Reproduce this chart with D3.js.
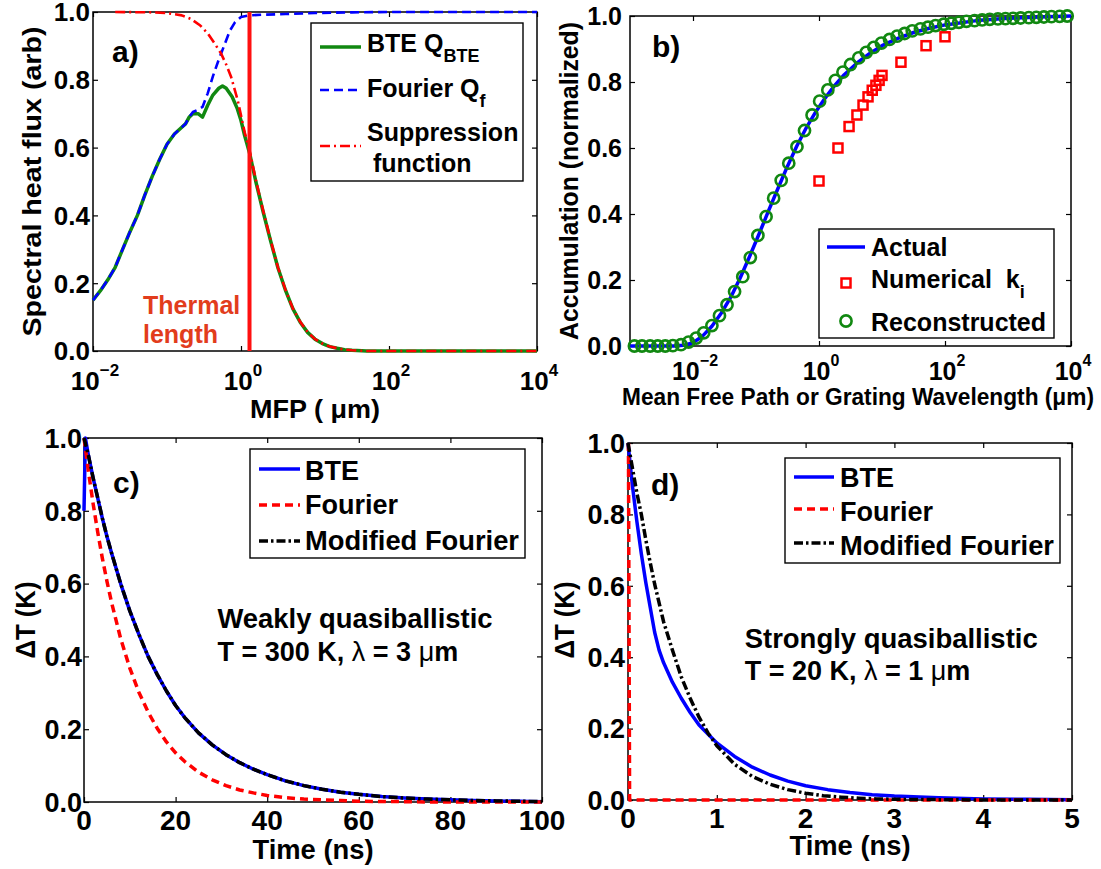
<!DOCTYPE html>
<html><head><meta charset="utf-8">
<script src="https://cdn.jsdelivr.net/npm/d3@7"></script>
<style>
body{margin:0;background:#fff}
svg{display:block}
text{font-family:"Liberation Sans",Arial,Helvetica,sans-serif;font-weight:bold;fill:#000}
</style>
</head><body>
<script>
// ---------------- DATA ----------------
// Panel a: spectral heat flux vs MFP (x as log10 of MFP in um)
const bteExp = [-2.0,-1.9,-1.8,-1.7,-1.6,-1.5,-1.4,-1.3,-1.2,-1.1,-1.0,-0.9,-0.8,-0.75,-0.7,-0.65,-0.58,-0.52,-0.45,-0.38,-0.3,-0.25,-0.2,-0.12,-0.05,0.0,0.05,0.12,0.2,0.3,0.4,0.5,0.6,0.7,0.8,0.9,1.0,1.1,1.2,1.3,1.4,1.5,1.7,2.0,3.0,4.0];
const bteVal = [0.15,0.178,0.21,0.247,0.30,0.352,0.40,0.46,0.515,0.565,0.61,0.64,0.66,0.67,0.69,0.70,0.70,0.69,0.725,0.755,0.775,0.782,0.775,0.75,0.715,0.68,0.635,0.58,0.5,0.41,0.325,0.245,0.18,0.125,0.085,0.055,0.035,0.022,0.013,0.008,0.004,0.002,0,0,0,0];
const fourExp = [-2.0,-1.9,-1.8,-1.7,-1.6,-1.5,-1.4,-1.3,-1.2,-1.1,-1.0,-0.9,-0.8,-0.75,-0.7,-0.65,-0.58,-0.52,-0.45,-0.38,-0.3,-0.22,-0.15,-0.08,0.0,0.1,0.3,0.6,1.0,1.5,2.0,3.0,4.0];
const fourVal = [0.15,0.178,0.21,0.247,0.30,0.352,0.40,0.46,0.515,0.565,0.61,0.64,0.66,0.67,0.69,0.705,0.712,0.72,0.76,0.81,0.86,0.905,0.945,0.97,0.985,0.99,0.992,0.994,0.997,0.999,1,1,1];
const suppExp = [-1.7,-1.2,-1.0,-0.8,-0.68,-0.55,-0.45,-0.35,-0.27,-0.2,-0.136,-0.09,-0.045,0.0,0.05,0.12,0.2,0.3,0.4,0.5,0.6,0.7,0.8,0.9,1.0,1.1,1.2,1.3,1.4,1.5,1.7,2.0,3.0,4.0];
const suppVal = [1.0,0.999,0.997,0.99,0.98,0.96,0.937,0.905,0.878,0.845,0.81,0.775,0.74,0.695,0.645,0.588,0.505,0.413,0.327,0.246,0.181,0.126,0.086,0.056,0.035,0.022,0.013,0.008,0.004,0.002,0,0,0,0];
const thermalLengthExp = 0.115;
const aXTicks = [-2,0,2,4];
const yTicks = [0,0.2,0.4,0.6,0.8,1.0];
const yTickLabels = ["0.0","0.2","0.4","0.6","0.8","1.0"];

// Panel b: accumulation (x as log10 of length in um)
const actExp = [-3,-2.3,-2.15,-2.0,-1.85,-1.7,-1.55,-1.4,-1.25,-1.1,-0.95,-0.8,-0.65,-0.5,-0.35,-0.2,-0.05,0.1,0.25,0.4,0.6,0.8,1.0,1.25,1.5,1.75,2.0,2.5,3.0,3.5,4.0];
const actVal = [0,0,0.002,0.01,0.03,0.06,0.1,0.148,0.207,0.272,0.34,0.41,0.478,0.545,0.607,0.662,0.71,0.752,0.79,0.822,0.857,0.886,0.91,0.932,0.95,0.963,0.973,0.986,0.993,0.997,1.0];
const numLambda = [1,2,3,4,5,6,7,8,9,10,20,50,100];
const numVal = [0.50,0.60,0.665,0.70,0.73,0.755,0.775,0.79,0.805,0.82,0.86,0.91,0.937];
const recExp = [-2.93,-2.81,-2.68,-2.56,-2.44,-2.32,-2.19,-2.07,-1.95,-1.83,-1.70,-1.58,-1.46,-1.34,-1.21,-1.09,-0.97,-0.84,-0.72,-0.60,-0.48,-0.35,-0.23,-0.11,0.01,0.14,0.26,0.38,0.50,0.63,0.75,0.87,0.99,1.12,1.24,1.36,1.48,1.61,1.73,1.85,1.98,2.10,2.22,2.34,2.47,2.59,2.71,2.84,2.96,3.08,3.20,3.33,3.45,3.57,3.69,3.82,3.94];
const recVal = [0,0,0,0,0,0.001,0.004,0.012,0.024,0.040,0.062,0.092,0.125,0.165,0.210,0.268,0.335,0.392,0.448,0.502,0.554,0.604,0.653,0.700,0.742,0.776,0.805,0.830,0.853,0.873,0.890,0.905,0.918,0.929,0.939,0.947,0.955,0.961,0.966,0.971,0.975,0.978,0.981,0.984,0.986,0.988,0.990,0.991,0.992,0.993,0.994,0.995,0.996,0.997,0.998,0.999,1.000];
const bXTicks = [-2,0,2,4];

// Panel c: weakly quasiballistic (time in ns)
const cTimeBte = [0,0.3,1,2,3,4,5,6,8,10,12,14,16,18,20,22,25,28,31,34,37,40,44,48,52,56,60,65,70,75,80,85,90,95,100];
const cBte = [0.8,1.0,0.95,0.89,0.835,0.78,0.73,0.685,0.60,0.525,0.46,0.40,0.35,0.305,0.265,0.232,0.19,0.157,0.13,0.108,0.09,0.075,0.058,0.045,0.035,0.027,0.021,0.015,0.011,0.008,0.006,0.004,0.003,0.002,0.001];
const cTime = [0,1,2,3,4,5,6,8,10,12,14,16,18,20,22,25,28,31,34,37,40,44,48,52,56,60,65,70,75,80,85,90,95,100];
const cFourier = [1.0,0.905,0.819,0.741,0.670,0.607,0.549,0.449,0.368,0.301,0.247,0.202,0.165,0.135,0.111,0.082,0.061,0.045,0.033,0.025,0.018,0.012,0.008,0.006,0.004,0.002,0.0015,0.001,0,0,0,0,0,0];
const cModified = [1.0,0.95,0.89,0.835,0.78,0.73,0.685,0.60,0.525,0.46,0.40,0.35,0.305,0.265,0.232,0.19,0.157,0.13,0.108,0.09,0.075,0.058,0.045,0.035,0.027,0.021,0.015,0.011,0.008,0.006,0.004,0.003,0.002,0.001];
const cXTicks = [0,20,40,60,80,100];

// Panel d: strongly quasiballistic (time in ns)
const dTimeBte = [0,0.05,0.1,0.15,0.2,0.25,0.3,0.35,0.4,0.5,0.6,0.7,0.8,0.9,1.0,1.2,1.4,1.6,1.8,2.0,2.25,2.5,2.75,3.0,3.5,4.0,4.5,5.0];
const dBte = [1.0,0.88,0.78,0.69,0.61,0.54,0.47,0.42,0.385,0.33,0.285,0.245,0.21,0.185,0.16,0.122,0.092,0.07,0.053,0.04,0.029,0.021,0.015,0.011,0.006,0.003,0.002,0.001];
const dTimeMod = [0,0.05,0.1,0.15,0.2,0.25,0.3,0.4,0.5,0.6,0.7,0.8,0.9,1.0,1.2,1.4,1.6,1.8,2.0,2.2,2.4,2.6,2.8,3.0,3.5,4.0,5.0];
const dModified = [1.0,0.93,0.86,0.80,0.73,0.665,0.605,0.5,0.42,0.345,0.285,0.232,0.188,0.152,0.1,0.066,0.044,0.029,0.019,0.012,0.008,0.005,0.003,0.002,0.001,0,0];
const dTimeFour = [0.005,0.018,5.0];
const dFourier = [1.0,0.0,0.0];
const dXTicks = [0,1,2,3,4,5];

// ---------------- DRAWING ----------------
const W = 1101, H = 869;
const svg = d3.select("body").append("svg").attr("width", W).attr("height", H);
svg.append("rect").attr("width", W).attr("height", H).attr("fill", "#fff");

const GREEN = "#118811", BLUE = "#0000ff", RED = "#ff0000", BLACK = "#000";

function frame(xs, ys, xt, yt, tick) {
  const g = svg.append("g");
  const [x0, x1] = xs.range(), [yb, yt0] = ys.range();
  const rm = s => s.select(".domain").remove();
  g.append("g").attr("transform", `translate(0,${yb})`).call(d3.axisBottom(xs).tickValues(xt).tickSize(-tick).tickFormat("")).call(rm);
  g.append("g").attr("transform", `translate(0,${yt0})`).call(d3.axisTop(xs).tickValues(xt).tickSize(-tick).tickFormat("")).call(rm);
  g.append("g").attr("transform", `translate(${x0},0)`).call(d3.axisLeft(ys).tickValues(yt).tickSize(-tick).tickFormat("")).call(rm);
  g.append("g").attr("transform", `translate(${x1},0)`).call(d3.axisRight(ys).tickValues(yt).tickSize(-tick).tickFormat("")).call(rm);
  g.selectAll(".tick line").attr("stroke", "#000").attr("stroke-width", 1.2);
  g.append("rect").attr("x", x0).attr("y", yt0).attr("width", x1 - x0).attr("height", yb - yt0)
    .attr("fill", "none").attr("stroke", "#000").attr("stroke-width", 1.5);
  return g;
}

function T(x, y, s, size, o = {}) {
  const t = svg.append("text").attr("x", x).attr("y", y).attr("font-size", size).text(s);
  if (o.anchor) t.attr("text-anchor", o.anchor);
  if (o.len) t.attr("textLength", o.len).attr("lengthAdjust", "spacingAndGlyphs");
  if (o.fill) t.style("fill", o.fill);
  return t;
}
function rotLabel(cx, cy, s, size, len) {
  const t = svg.append("text").attr("transform", `translate(${cx + size * 0.36},${cy}) rotate(-90)`)
    .attr("text-anchor", "middle").attr("font-size", size).text(s);
  if (len) t.attr("textLength", len).attr("lengthAdjust", "spacingAndGlyphs");
  return t;
}
function yLabels(ys, xRight, size) {
  yTicks.forEach((v, i) => T(xRight, ys(v), yTickLabels[i], size, {anchor: "end"}).attr("dy", "0.36em"));
}
function logLabels(xs, exps, y, size, sup) {
  exps.forEach(e => {
    const t = svg.append("text").attr("x", xs(Math.pow(10, e)) + 2).attr("y", y).attr("text-anchor", "middle").attr("font-size", size);
    t.append("tspan").text("10");
    t.append("tspan").attr("font-size", sup).attr("dy", -size * 0.55).text(e < 0 ? "\u2212" + (-e) : String(e));
  });
}
function path(pts, xf, yf, color, w, dash) {
  const p = svg.append("path").attr("d", d3.line().x(d => xf(d[0])).y(d => yf(d[1]))(pts))
    .attr("fill", "none").attr("stroke", color).attr("stroke-width", w).attr("stroke-linejoin", "round");
  if (dash) p.attr("stroke-dasharray", dash);
  return p;
}
const zip = (a, b) => a.map((v, i) => [v, b[i]]);
const DASH = "9,5", DASHDOT = "10,4,2,4", DASHC = "8,5", DASHDOTC = "9,3,2.5,3";

// ===== Panel a =====
const xA = d3.scaleLog().domain([1e-2, 1e4]).range([93, 537]);
const yA = d3.scaleLinear().domain([0, 1]).range([351, 12]);
frame(xA, yA, aXTicks.map(e => Math.pow(10, e)), yTicks, 5);
const fa = e => xA(Math.pow(10, e));
path(zip(bteExp, bteVal), fa, yA, GREEN, 3.5);
path(zip(fourExp, fourVal), fa, yA, BLUE, 2.6, DASH);
path(zip(suppExp, suppVal), fa, yA, RED, 2.6, DASHDOT);
svg.append("line").attr("x1", fa(thermalLengthExp)).attr("x2", fa(thermalLengthExp))
  .attr("y1", yA(0)).attr("y2", yA(1)).attr("stroke", "#ff1010").attr("stroke-width", 4);
yLabels(yA, 90, 26);
logLabels(xA, aXTicks, 390, 26, 17);
T(315, 418, "MFP ( \u03bcm)", 26, {anchor: "middle", len: 130});
rotLabel(32, 181.5, "Spectral heat flux (arb)", 26, 310);
T(112, 62, "a)", 30);
T(143, 314, "Thermal", 25, {fill: "#e23c1c"});
T(143, 343, "length", 25, {fill: "#e23c1c"});
// legend a
svg.append("rect").attr("x", 311).attr("y", 23).attr("width", 212).attr("height", 158)
  .attr("fill", "#fff").attr("stroke", "#000").attr("stroke-width", 1.4);
svg.append("line").attr("x1", 320).attr("x2", 361).attr("y1", 47).attr("y2", 47).attr("stroke", GREEN).attr("stroke-width", 3.5);
svg.append("line").attr("x1", 320).attr("x2", 361).attr("y1", 90).attr("y2", 90).attr("stroke", BLUE).attr("stroke-width", 2.6).attr("stroke-dasharray", DASH);
svg.append("line").attr("x1", 320).attr("x2", 361).attr("y1", 146).attr("y2", 146).attr("stroke", RED).attr("stroke-width", 2.6).attr("stroke-dasharray", DASHDOT);
{
  const t1 = T(367, 52, "BTE Q", 25); t1.append("tspan").attr("font-size", 18).attr("dy", 10).text("BTE");
  const t2 = T(367, 97, "Fourier Q", 25); t2.append("tspan").attr("font-size", 18).attr("dy", 10).text("f");
  T(367, 141, "Suppression", 25);
  T(373, 172, "function", 25);
}

// ===== Panel b =====
const xB = d3.scaleLog().domain([1e-3, 1e4]).range([630, 1071]);
const yB = d3.scaleLinear().domain([0, 1]).range([346, 16]);
frame(xB, yB, bXTicks.map(e => Math.pow(10, e)), yTicks, 5);
const fb = e => xB(Math.pow(10, e));
path(zip(actExp, actVal), fb, yB, BLUE, 3.5);
svg.append("g").selectAll("rect").data(zip(numLambda, numVal)).join("rect")
  .attr("x", d => xB(d[0]) - 4.5).attr("y", d => yB(d[1]) - 4.5).attr("width", 9).attr("height", 9)
  .attr("fill", "none").attr("stroke", RED).attr("stroke-width", 2.5);
svg.append("g").selectAll("circle").data(zip(recExp, recVal)).join("circle")
  .attr("cx", d => fb(d[0])).attr("cy", d => yB(d[1])).attr("r", 5.6)
  .attr("fill", "none").attr("stroke", GREEN).attr("stroke-width", 2.6);
yLabels(yB, 622, 25);
logLabels(xB, bXTicks, 380, 25, 16);
T(858, 405, "Mean Free Path or Grating Wavelength (\u03bcm)", 23, {anchor: "middle", len: 472});
rotLabel(569, 181, "Accumulation (normalized)", 25, 318);
T(652, 57, "b)", 30);
// legend b
svg.append("rect").attr("x", 819).attr("y", 229).attr("width", 235).attr("height", 109)
  .attr("fill", "#fff").attr("stroke", "#000").attr("stroke-width", 1.4);
svg.append("line").attr("x1", 827).attr("x2", 865).attr("y1", 247).attr("y2", 247).attr("stroke", BLUE).attr("stroke-width", 3.5);
svg.append("rect").attr("x", 841.5).attr("y", 278.5).attr("width", 9).attr("height", 9).attr("fill", "none").attr("stroke", RED).attr("stroke-width", 2.5);
svg.append("circle").attr("cx", 846).attr("cy", 321).attr("r", 5.6).attr("fill", "none").attr("stroke", GREEN).attr("stroke-width", 2.6);
T(871, 256, "Actual", 25);
{ const t = T(871, 288, "Numerical  k", 25).attr("xml:space", "preserve"); t.append("tspan").attr("font-size", 18).attr("dy", 10).text("i"); }
T(871, 331, "Reconstructed", 25);

// ===== Panel c =====
const xC = d3.scaleLinear().domain([0, 100]).range([84, 542]);
const yC = d3.scaleLinear().domain([0, 1]).range([802, 438]);
frame(xC, yC, cXTicks, yTicks, 5);
path(zip(cTimeBte, cBte), xC, yC, BLUE, 3.5);
path(zip(cTime, cFourier), xC, yC, RED, 3.5, DASHC);
path(zip(cTime, cModified), xC, yC, BLACK, 3.5, DASHDOTC);
yLabels(yC, 82, 27);
cXTicks.forEach(v => T(xC(v), 830, String(v), 28, {anchor: "middle"}));
T(313, 859, "Time (ns)", 27, {anchor: "middle", len: 121});
rotLabel(25, 620, "\u0394T (K)", 27, 77);
T(113, 493, "c)", 30);
T(217.5, 628, "Weakly quasiballistic", 27, {len: 275});
{ const t = T(217.5, 661, "T = 300 K, ", 27); t.append("tspan").style("font-weight", "normal").text("\u03bb"); t.append("tspan").text(" = 3 "); t.append("tspan").style("font-weight", "normal").text("\u03bc"); t.append("tspan").text("m"); }
// legend c
svg.append("rect").attr("x", 250).attr("y", 449).attr("width", 275).attr("height", 109)
  .attr("fill", "#fff").attr("stroke", "#000").attr("stroke-width", 1.4);
svg.append("line").attr("x1", 259).attr("x2", 300).attr("y1", 469).attr("y2", 469).attr("stroke", BLUE).attr("stroke-width", 3.5);
svg.append("line").attr("x1", 259).attr("x2", 300).attr("y1", 505).attr("y2", 505).attr("stroke", RED).attr("stroke-width", 3.5).attr("stroke-dasharray", DASHC);
svg.append("line").attr("x1", 259).attr("x2", 300).attr("y1", 541).attr("y2", 541).attr("stroke", BLACK).attr("stroke-width", 3.5).attr("stroke-dasharray", DASHDOTC);
T(305, 480, "BTE", 27);
T(305, 514, "Fourier", 27);
T(305, 550, "Modified Fourier", 27, {len: 214});

// ===== Panel d =====
const xD = d3.scaleLinear().domain([0, 5]).range([628, 1072]);
const yD = d3.scaleLinear().domain([0, 1]).range([800, 443]);
frame(xD, yD, dXTicks, yTicks, 5);
path(zip(dTimeBte, dBte), xD, yD, BLUE, 3.5);
path(zip(dTimeFour, dFourier), xD, yD, RED, 3.5, DASHC);
path(zip(dTimeMod, dModified), xD, yD, BLACK, 3.5, DASHDOTC);
yLabels(yD, 625, 27);
dXTicks.forEach(v => T(xD(v), 828, String(v), 28, {anchor: "middle"}));
T(850, 855, "Time (ns)", 27, {anchor: "middle", len: 121});
rotLabel(564, 620, "\u0394T (K)", 27, 77);
T(651, 495, "d)", 30);
T(744.7, 648, "Strongly quasiballistic", 27, {len: 293});
{ const t = T(744.7, 680, "T = 20 K, ", 27); t.append("tspan").style("font-weight", "normal").text("\u03bb"); t.append("tspan").text(" = 1 "); t.append("tspan").style("font-weight", "normal").text("\u03bc"); t.append("tspan").text("m"); }
// legend d
svg.append("rect").attr("x", 785).attr("y", 458).attr("width", 275).attr("height", 105)
  .attr("fill", "#fff").attr("stroke", "#000").attr("stroke-width", 1.4);
svg.append("line").attr("x1", 794).attr("x2", 834).attr("y1", 477).attr("y2", 477).attr("stroke", BLUE).attr("stroke-width", 3.5);
svg.append("line").attr("x1", 794).attr("x2", 834).attr("y1", 509).attr("y2", 509).attr("stroke", RED).attr("stroke-width", 3.5).attr("stroke-dasharray", DASHC);
svg.append("line").attr("x1", 794).attr("x2", 834).attr("y1", 543).attr("y2", 543).attr("stroke", BLACK).attr("stroke-width", 3.5).attr("stroke-dasharray", DASHDOTC);
T(840, 487, "BTE", 27);
T(840, 521, "Fourier", 27);
T(840, 555, "Modified Fourier", 27, {len: 214});
</script>
</body></html>
